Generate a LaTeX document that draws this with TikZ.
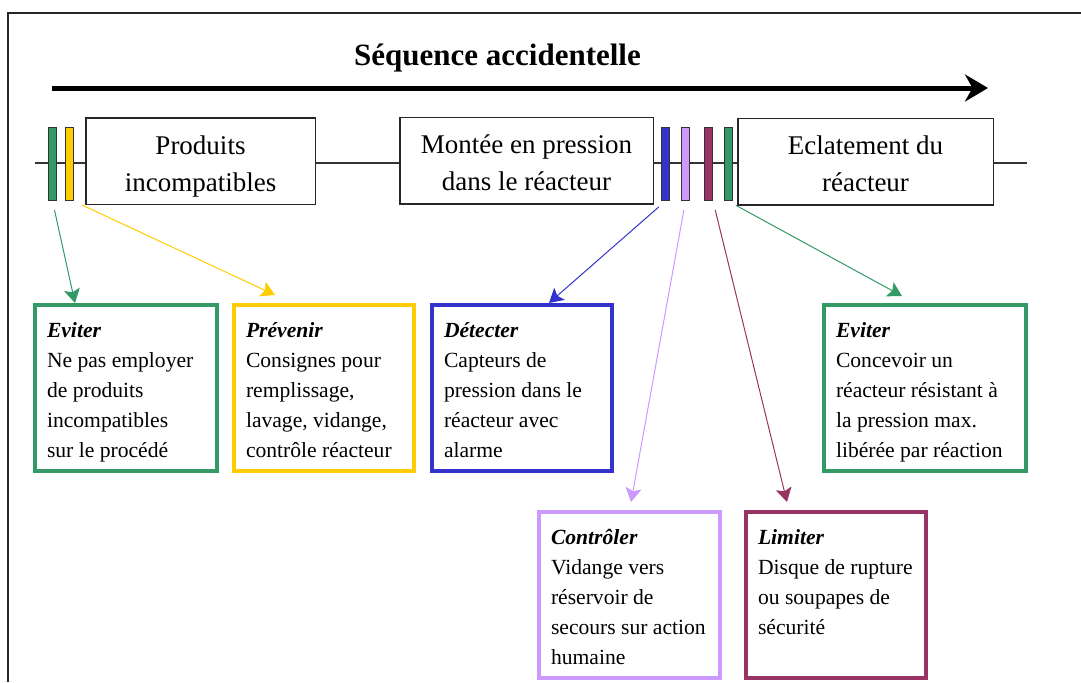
\documentclass[tikz,border=0pt]{standalone}
\usepackage{fontspec}
\setmainfont{Liberation Serif}
\usepackage{tikz}
\usetikzlibrary{
    arrows.meta
  , calc
  , positioning
}

\definecolor{evgreen}{HTML}{339966}
\definecolor{prvyellow}{HTML}{FFCC00}
\definecolor{detblue}{HTML}{3333CC}
\definecolor{ctrlilac}{HTML}{CC99FF}
\definecolor{limplum}{HTML}{993366}

\newcommand{\fichefont}{\fontsize{10.8}{15}\selectfont\hyphenpenalty=10000\relax}

\tikzset{
  etape/.style={draw=black!85, fill=white, line width=0.75pt, minimum height=43.25pt,
    align=center, inner sep=0pt, text height=36pt, text depth=6pt,
    font=\fontsize{13.5}{18.5}\selectfont},
  barre/.style={draw=black!80, fill=#1, line width=0.5pt, minimum width=4pt,
    minimum height=36.5pt, inner sep=0pt},
  fiche/.style={draw=#1, line width=2pt, anchor=north west, align=flush left,
    inner xsep=6pt, inner ysep=6pt, text height=10pt, text depth=61pt,
    font=\fichefont},
  lien/.style={draw=#1, line width=0.5pt, shorten <=4.5pt,
    -{Stealth[length=7pt,width=8pt,inset=1.5pt]}},
}

\begin{document}
\begin{tikzpicture}[x=0.5pt, y=-0.5pt]
  \useasboundingbox (0,0) rectangle (1081,682);
  % Frame
  \draw[line width=1pt, black!85] (8,682) -- (8,13) -- (1081,13);
  % Title and sequence arrow
  \node[anchor=base, font=\bfseries\fontsize{15.5}{18}\selectfont] (titre) at (497.5,65) {Séquence accidentelle};
  \coordinate (seqdebut) at (52,88);
  \coordinate (seqfin) at (988,88);
  \draw[line width=2.5pt, -{Stealth[length=11.5pt,width=13.5pt]}] (seqdebut) -- (seqfin);
  % Time line
  \coordinate (axeg) at (35,163);
  \coordinate (axed) at (1027,163);
  \draw[line width=0.75pt, black!80] (axeg) -- (axed);
  % Events
  \node[etape, minimum width=114.75pt] (produits) at (200.5,161) {Produits\\incompatibles};
  \node[etape, minimum width=126.75pt] (montee) at (526.5,160.5) {Montée en pression\\dans le réacteur};
  \node[etape, minimum width=127.75pt] (eclat) at (865.5,161.5) {Eclatement du\\réacteur};
  % Barriers on the line
  \node[barre=evgreen] (bevA) at (52.5,164) {};
  \node[barre=prvyellow] (bprv) at (69,164) {};
  \node[barre=detblue] (bdet) at (665.5,164) {};
  \node[barre=ctrlilac] (bctr) at (685.5,164) {};
  \node[barre=limplum] (blim) at (708.5,164) {};
  \node[barre=evgreen] (bevB) at (728,164) {};
  % Barrier descriptions
  \node[fiche=evgreen, text width=79pt] (evA) at (33,303)
    {\textbf{\textit{Eviter}}\\Ne pas employer\\de produits\\incompatibles\\sur le procédé};
  \node[fiche=prvyellow, text width=78pt] (prv) at (232,303)
    {\textbf{\textit{Prévenir}}\\Consignes pour\\remplissage,\\lavage, vidange,\\contrôle réacteur};
  \node[fiche=detblue, text width=78pt] (det) at (430,303)
    {\textbf{\textit{Détecter}}\\Capteurs de\\pression dans le\\réacteur avec\\alarme};
  \node[fiche=evgreen, text width=89pt] (evB) at (822,303)
    {\textbf{\textit{Eviter}}\\Concevoir un\\réacteur résistant à\\la pression max.\\libérée par réaction};
  \node[fiche=ctrlilac, text width=78.5pt] (ctr) at (537,510)
    {\textbf{\textit{Contrôler}}\\Vidange vers\\réservoir de\\secours sur action\\humaine};
  \node[fiche=limplum, text width=78pt] (lim) at (744,510)
    {\textbf{\textit{Limiter}}\\Disque de rupture\\ou soupapes de\\sécurité};
  % Arrows to descriptions
  \draw[lien=evgreen] (bevA.south) -- ([xshift=21pt]evA.north west);
  \draw[lien=prvyellow] (bprv.south east) -- ([xshift=21.5pt,yshift=4pt]prv.north west);
  \draw[lien=detblue] (bdet.south) -- ([xshift=59.5pt]det.north west);
  \draw[lien=ctrlilac] (bctr.south) -- ([xshift=47pt,yshift=4pt]ctr.north west);
  \draw[lien=limplum] (blim.south east) -- ([xshift=21.5pt,yshift=4pt]lim.north west);
  \draw[lien=evgreen] (bevB.south) -- ([xshift=40pt,yshift=3.5pt]evB.north west);
\end{tikzpicture}
\end{document}
